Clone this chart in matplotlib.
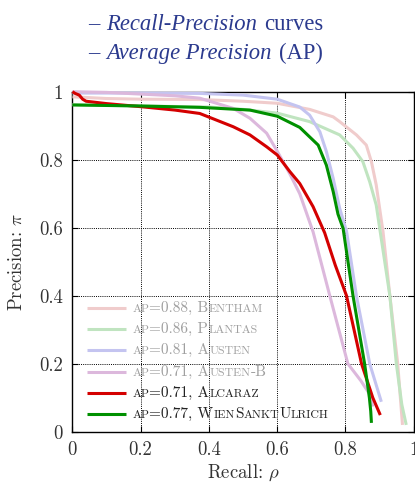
import matplotlib
matplotlib.use("Agg")
import matplotlib.pyplot as plt
from matplotlib.lines import Line2D
from matplotlib.ticker import FuncFormatter, MultipleLocator
from matplotlib.offsetbox import (TextArea, HPacker, VPacker, DrawingArea,
                                  AnchoredOffsetbox)

# data
names = ["Bentham", "Plantas", "Austen", "Austen-B", "Alcaraz", "WienSanktUlrich"]
ap_values = [0.88, 0.86, 0.81, 0.71, 0.71, 0.77]

bentham_r = [0, 0.1, 0.2, 0.373, 0.5, 0.6, 0.695, 0.764, 0.783, 0.832, 0.861, 0.876, 0.89, 0.91, 0.93, 0.953, 0.967]
bentham_p = [0.985, 0.98, 0.978, 0.977, 0.972, 0.966, 0.948, 0.926, 0.912, 0.873, 0.843, 0.794, 0.726, 0.588, 0.4, 0.2, 0.02]

plantas_r = [0, 0.2, 0.4, 0.5, 0.6, 0.695, 0.783, 0.822, 0.851, 0.871, 0.89, 0.9, 0.93, 0.949, 0.965, 0.978]
plantas_p = [0.962, 0.958, 0.955, 0.948, 0.937, 0.912, 0.873, 0.834, 0.794, 0.735, 0.667, 0.6, 0.4, 0.2, 0.08, 0.02]

austen_r = [0, 0.2, 0.373, 0.5, 0.6, 0.666, 0.695, 0.725, 0.744, 0.764, 0.783, 0.803, 0.832, 0.871, 0.905]
austen_p = [0.996, 0.996, 0.995, 0.99, 0.978, 0.955, 0.931, 0.882, 0.824, 0.745, 0.657, 0.59, 0.4, 0.2, 0.088]

austenb_r = [0, 0.1, 0.2, 0.3, 0.373, 0.471, 0.52, 0.569, 0.6, 0.637, 0.666, 0.705, 0.754, 0.807, 0.845, 0.871, 0.88]
austenb_p = [1.0, 0.998, 0.993, 0.988, 0.981, 0.951, 0.922, 0.878, 0.825, 0.758, 0.7, 0.588, 0.4, 0.2, 0.15, 0.11, 0.074]

alcaraz_r = [0, 0.008, 0.02, 0.03, 0.04, 0.1, 0.2, 0.3, 0.373, 0.471, 0.52, 0.569, 0.6, 0.637, 0.666, 0.705, 0.739, 0.77, 0.803, 0.847, 0.88, 0.902]
alcaraz_p = [1.0, 0.995, 0.99, 0.978, 0.972, 0.965, 0.956, 0.946, 0.936, 0.897, 0.873, 0.838, 0.814, 0.765, 0.73, 0.662, 0.585, 0.49, 0.4, 0.2, 0.1, 0.049]

wsu_r = [0, 0.2, 0.373, 0.52, 0.6, 0.666, 0.72, 0.744, 0.764, 0.778, 0.793, 0.822, 0.856, 0.87, 0.874, 0.876]
wsu_p = [0.961, 0.958, 0.954, 0.946, 0.928, 0.895, 0.843, 0.784, 0.706, 0.64, 0.598, 0.4, 0.2, 0.1, 0.06, 0.026]

recalls = [bentham_r, plantas_r, austen_r, austenb_r, alcaraz_r, wsu_r]
precisions = [bentham_p, plantas_p, austen_p, austenb_p, alcaraz_p, wsu_p]
line_colors = ["#f0cccc", "#c0e4c0", "#c4c4f0", "#dcb8dc", "#d40000", "#009000"]
text_colors = ["#a0a0a0", "#a0a0a0", "#a0a0a0", "#a0a0a0", "#222222", "#222222"]

plt.rcParams["font.family"] = "serif"
plt.rcParams["font.serif"] = ["cmr10"]
plt.rcParams["mathtext.fontset"] = "cm"

fig = plt.figure(figsize=(4.15, 4.86), dpi=100)
ax = fig.add_axes([0.1745, 0.1117, 0.8225, 0.6996])

for r, p, c in zip(recalls, precisions, line_colors):
    ax.plot(r, p, color=c, lw=2.2, solid_capstyle="butt", solid_joinstyle="round",
            clip_on=False, zorder=3)

ax.set_xlim(0, 1)
ax.set_ylim(0, 1)
ax.xaxis.set_major_locator(MultipleLocator(0.2))
ax.yaxis.set_major_locator(MultipleLocator(0.2))
fmt = FuncFormatter(lambda v, pos: f"{v:g}")
ax.xaxis.set_major_formatter(fmt)
ax.yaxis.set_major_formatter(fmt)
ax.tick_params(direction="in", top=True, right=True, length=4, width=0.8,
               labelsize=13.5, labelcolor="#333333", pad=7)
ax.grid(True, color="black", linestyle=(0, (1, 1.2)), linewidth=0.7)
for s in ax.spines.values():
    s.set_linewidth(1.0)
ax.set_xlabel(r"Recall: $\rho$", fontsize=13.5, color="#333333", labelpad=2)
ax.set_ylabel(r"Precision: $\pi$", fontsize=13.5, color="#333333", labelpad=9)


# fake small caps: lowercase letters drawn as smaller capitals
def smallcaps(text, size, color):
    runs = []
    for ch in text:
        small = ch.islower()
        if runs and runs[-1][1] == small:
            runs[-1][0] += ch
        else:
            runs.append([ch, small])
    parts = []
    for t, small in runs:
        parts.append(TextArea(t.upper() if small else t,
                              textprops=dict(size=size * 0.78 if small else size,
                                             color=color, family="cmr10")))
    return HPacker(children=parts, align="baseline", pad=0, sep=0)


rows = []
for name, ap, lc, tc in zip(names, ap_values, line_colors, text_colors):
    da = DrawingArea(28, 8, 0, 0)
    da.add_artist(Line2D([0, 28], [4, 4], color=lc, lw=2.2, solid_capstyle="butt"))
    lab = smallcaps(f"ap={ap:.2f}, {name}", 11, tc)
    rows.append(HPacker(children=[da, lab], align="center", pad=0, sep=5))
legend = VPacker(children=rows, align="left", pad=0, sep=5.2)
ab = AnchoredOffsetbox(loc="lower left", child=legend, frameon=False, pad=0,
                       bbox_to_anchor=(0.042, 0.031), bbox_transform=ax.transAxes,
                       borderpad=0)
ax.add_artist(ab)

# header lines
blue = "#2b3a8e"


def header(pieces):
    parts = [TextArea(t, textprops=dict(size=16.3, color=blue, family="Liberation Serif",
                                        style=st)) for t, st in pieces]
    return HPacker(children=parts, align="baseline", pad=0, sep=5)


h1 = header([("\u2013", "normal"), ("Recall-Precision", "italic"), ("curves", "normal")])
h2 = header([("\u2013", "normal"), ("Average Precision", "italic"), ("(AP)", "normal")])
hbox = VPacker(children=[h1, h2], align="left", pad=0, sep=5.5)
hb = AnchoredOffsetbox(loc="upper left", child=hbox, frameon=False, pad=0,
                       bbox_to_anchor=(88 / 415, 1 - 14 / 486),
                       bbox_transform=fig.transFigure, borderpad=0)
fig.add_artist(hb)

fig.savefig("out.png", dpi=100)
